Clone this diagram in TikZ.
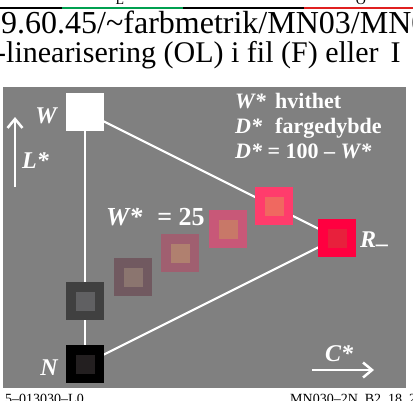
\documentclass[tikz,border=0pt]{standalone}
\usepackage{fontspec}
\setmainfont{Liberation Serif}
\usetikzlibrary{arrows.meta,backgrounds}

\definecolor{panel}{HTML}{808080}
\definecolor{stripgreen}{HTML}{00A050}
\definecolor{stripred}{HTML}{E02020}
\definecolor{nout}{HTML}{000000}
\definecolor{nin}{HTML}{231F20}
\definecolor{gout}{HTML}{404040}
\definecolor{gin}{HTML}{606062}
\definecolor{aout}{HTML}{715960}
\definecolor{ain}{HTML}{8B756F}
\definecolor{bout}{HTML}{A05F70}
\definecolor{bin}{HTML}{B0806F}
\definecolor{cout}{HTML}{C85878}
\definecolor{cin}{HTML}{C87868}
\definecolor{dout}{HTML}{FF3C6C}
\definecolor{din}{HTML}{F06860}
\definecolor{rout}{HTML}{FF0040}
\definecolor{rin}{HTML}{E8203C}

\tikzset{
  patch/.style={minimum size=38pt, inner sep=0pt, outer sep=0pt, fill=#1},
  core/.style={minimum size=19pt, inner sep=0pt, outer sep=0pt, fill=#1},
  tag/.style={text=white, inner sep=0pt, font=\fontsize{24}{24}\selectfont\bfseries\itshape},
  legend/.style={text=white, inner sep=0pt, anchor=base west, font=\fontsize{22}{22}\selectfont\bfseries},
  header/.style={inner sep=0pt, anchor=base west, font=\fontsize{#1}{#1}\selectfont},
  small/.style={inner sep=0pt, font=\fontsize{14}{14}\selectfont},
  edge/.style={white, line width=2.2pt},
  axis/.style={white, line width=2.5pt, -{Straight Barb[length=9pt, width=15pt]}},
}
\newcommand{\symcol}[1]{\makebox[40pt][l]{\textit{#1}}}

\begin{document}
\begin{tikzpicture}[x=1pt, y=-1pt]
  \useasboundingbox (0,0) rectangle (413,400);
  \clip (0,0) rectangle (413,400);
  % top strip
  \draw[line width=2.5pt] (0,8) -- (62,8);
  \draw[line width=2.5pt, stripgreen] (62,8) -- (183,8);
  \draw[line width=2.5pt] (183,8) -- (304,8);
  \draw[line width=2.5pt, stripred] (304,8) -- (413,8);
  \node[small, anchor=base] (lmark) at (120,4) {L};
  \node[small, anchor=base] (omark) at (361,4) {O};
  % header lines
  \node[header=32] (url) at (1,33) {9.60.45/\textasciitilde farbmetrik/MN03/MN0};
  \node[header=30] (lin) at (-4,62) {-linearisering (OL) i fil (F) eller\hspace{12pt}I};
  % bottom codes
  \node[small, anchor=base west] (code) at (5,403) {5--013030--L0};
  \node[small, anchor=base west] (file) at (290,403) {MN030--2N\_B2\_18\_2};

  % colour patches
  \node[patch=white] (w) at (85,112) {};
  \node[patch=gout] (g) at (85,301) {};
  \node[core=gin] at (g) {};
  \node[patch=aout] (pa) at (133,277) {};
  \node[core=ain] at (pa) {};
  \node[patch=bout] (pb) at (180,253) {};
  \node[core=bin] at (pb) {};
  \node[patch=cout] (pc) at (228,229) {};
  \node[core=cin] at (pc) {};
  \node[patch=dout] (pd) at (274,206) {};
  \node[core=din] at (pd) {};
  \node[patch=rout] (r) at (337,238) {};
  \node[core=rin] at (r) {};
  \node[patch=nout] (n) at (85,364) {};
  \node[core=nin] at (n) {};

  % panel and triangle edges
  \begin{pgfonlayer}{background}
    \fill[panel] (3,87) rectangle (406,388);
    \draw[edge] (w.center) -- (n.center);
    \draw[edge] (w.center) -- (r.center);
    \draw[edge] (n.center) -- (r.center);
  \end{pgfonlayer}

  % corner labels
  \node[tag, anchor=base east] (wtag) at (57,123) {W};
  \node[tag, anchor=base east] (ntag) at (58,375) {N};
  \node[tag, anchor=base west] (rtag) at (360,247) {R\raisebox{-4pt}{–}};
  % axes
  \coordinate (lfoot) at (15,187);
  \coordinate (ltip) at (15,117);
  \draw[axis] (lfoot) -- (ltip);
  \node[tag, anchor=base west] (ltag) at (22,168) {L*};
  \coordinate (cfoot) at (312,370);
  \coordinate (ctip) at (374,370);
  \draw[axis] (cfoot) -- (ctip);
  \node[tag, anchor=base west] (ctag) at (325,361) {C*};

  % legend
  \node[legend] (whit) at (235,108) {\symcol{W*}hvithet};
  \node[legend] (deep) at (235,133) {\symcol{D*}fargedybde};
  \node[legend] (rule) at (235,158) {\textit{D*} = 100 – \textit{W*}};
  \node[legend, font=\fontsize{26}{26}\selectfont\bfseries] (wval) at (106,225) {\textit{W*}\hspace{15pt}= 25};
\end{tikzpicture}
\end{document}
